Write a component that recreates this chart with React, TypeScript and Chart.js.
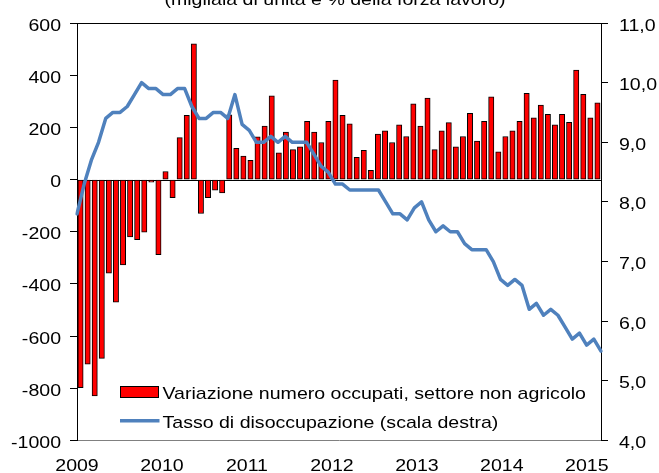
import React, { useEffect, useRef } from "react";
import { Chart, registerables } from "chart.js";

Chart.register(...registerables);

const categories = [
  "2009-01","2009-02","2009-03","2009-04","2009-05","2009-06","2009-07","2009-08","2009-09","2009-10","2009-11","2009-12",
  "2010-01","2010-02","2010-03","2010-04","2010-05","2010-06","2010-07","2010-08","2010-09","2010-10","2010-11","2010-12",
  "2011-01","2011-02","2011-03","2011-04","2011-05","2011-06","2011-07","2011-08","2011-09","2011-10","2011-11","2011-12",
  "2012-01","2012-02","2012-03","2012-04","2012-05","2012-06","2012-07","2012-08","2012-09","2012-10","2012-11","2012-12",
  "2013-01","2013-02","2013-03","2013-04","2013-05","2013-06","2013-07","2013-08","2013-09","2013-10","2013-11","2013-12",
  "2014-01","2014-02","2014-03","2014-04","2014-05","2014-06","2014-07","2014-08","2014-09","2014-10","2014-11","2014-12",
  "2015-01","2015-02",
];

const employmentChange = [
  -798, -707, -829, -685, -359, -470, -327, -220, -230, -202,
  -10, -288, 31, -69, 161, 246, 520, -130, -69, -41,
  -51, 248, 120, 90, 74, 164, 205, 321, 102, 182,
  115, 125, 223, 182, 142, 223, 381, 246, 214, 85,
  112, 35, 174, 187, 142, 210, 165, 290, 205, 312,
  115, 187, 218, 125, 165, 254, 147, 223, 317, 106,
  165, 187, 223, 330, 237, 285, 250, 210, 250, 219,
  420, 327, 237, 294,
];

const unemploymentRate = [
  7.8, 8.3, 8.7, 9.0, 9.4, 9.5, 9.5, 9.6, 9.8, 10.0,
  9.9, 9.9, 9.8, 9.8, 9.9, 9.9, 9.6, 9.4, 9.4, 9.5,
  9.5, 9.4, 9.8, 9.3, 9.2, 9.0, 9.0, 9.1, 9.0, 9.1,
  9.0, 9.0, 9.0, 8.8, 8.6, 8.5, 8.3, 8.3, 8.2, 8.2,
  8.2, 8.2, 8.2, 8.0, 7.8, 7.8, 7.7, 7.9, 8.0, 7.7,
  7.5, 7.6, 7.5, 7.5, 7.3, 7.2, 7.2, 7.2, 7.0, 6.7,
  6.6, 6.7, 6.6, 6.2, 6.3, 6.1, 6.2, 6.1, 5.9, 5.7,
  5.8, 5.6, 5.7, 5.5,
];

const yearLabels = ["2009", "2010", "2011", "2012", "2013", "2014", "2015"];

const barLabel = "Variazione numero occupati, settore non agricolo";
const lineLabel = "Tasso di disoccupazione (scala destra)";
const subtitle = "(migliaia di unità e % della forza lavoro)";

const BAR_COLOR = "#FF0000";
const LINE_COLOR = "#4F81BD";
const FONT = '17px "Liberation Sans", Arial, sans-serif';
const SX = 1.15;

function drawStretched(
  ctx: CanvasRenderingContext2D,
  text: string,
  x: number,
  y: number,
  align: "left" | "right" | "center"
) {
  const w = ctx.measureText(text).width * SX;
  let left = x;
  if (align === "right") left = x - w;
  else if (align === "center") left = x - w / 2;
  ctx.save();
  ctx.translate(left, y);
  ctx.scale(SX, 1);
  ctx.textAlign = "left";
  ctx.textBaseline = "alphabetic";
  ctx.fillText(text, 0, 0);
  ctx.restore();
}

const overlayPlugin = {
  id: "overlay",
  beforeDatasetsDraw(chart: any) {
    const { ctx, chartArea, scales } = chart;
    const y0 = Math.round(scales.y.getPixelForValue(0)) + 0.5;
    ctx.save();
    ctx.strokeStyle = "#000";
    ctx.lineWidth = 1;
    ctx.beginPath();
    ctx.moveTo(chartArea.left, y0);
    ctx.lineTo(chartArea.right, y0);
    ctx.stroke();
    ctx.restore();
  },
  afterDraw(chart: any) {
    const { ctx, chartArea, scales } = chart;
    ctx.save();
    ctx.strokeStyle = "#000";
    ctx.lineWidth = 1;
    ctx.beginPath();
    ctx.moveTo(chartArea.left, Math.round(chartArea.top) + 0.5);
    ctx.lineTo(chartArea.right, Math.round(chartArea.top) + 0.5);
    ctx.stroke();

    ctx.font = FONT;
    ctx.fillStyle = "#000";

    const ys = scales.y;
    ys.ticks.forEach((t: any) => {
      const py = ys.getPixelForValue(t.value);
      drawStretched(ctx, String(t.value), 61, py + 7.5, "right");
    });
    const y2 = scales.y2;
    y2.ticks.forEach((t: any) => {
      const py = y2.getPixelForValue(t.value);
      drawStretched(ctx, t.value.toFixed(1).replace(".", ","), 619, py + 7.5, "left");
    });
    const xs = scales.x;
    const n = categories.length;
    yearLabels.forEach((lab, i) => {
      const px = xs.left + ((i * 12) / n) * (xs.right - xs.left);
      drawStretched(ctx, lab, px, 470.5, "center");
    });

    drawStretched(ctx, subtitle, 335, 4.5, "center");

    ctx.fillStyle = BAR_COLOR;
    ctx.fillRect(121, 387, 37, 10);
    ctx.strokeStyle = "#000";
    ctx.lineWidth = 1;
    ctx.strokeRect(120.5, 386.5, 38, 11);
    ctx.strokeStyle = LINE_COLOR;
    ctx.lineWidth = 3.5;
    ctx.beginPath();
    ctx.moveTo(120, 420.7);
    ctx.lineTo(159.5, 420.7);
    ctx.stroke();
    ctx.fillStyle = "#000";
    drawStretched(ctx, barLabel, 162.5, 398.5, "left");
    drawStretched(ctx, lineLabel, 162.5, 428, "left");
    ctx.restore();
  },
};

export default function App() {
  const ref = useRef<HTMLCanvasElement | null>(null);

  useEffect(() => {
    if (!ref.current) return;
    const chart = new Chart(ref.current, {
      type: "bar",
      data: {
        labels: categories,
        datasets: [
          {
            type: "line",
            label: lineLabel,
            data: unemploymentRate,
            borderColor: LINE_COLOR,
            backgroundColor: LINE_COLOR,
            borderWidth: 3.5,
            pointRadius: 0,
            tension: 0,
            borderJoinStyle: "round",
            borderCapStyle: "round",
            xAxisID: "xl",
            yAxisID: "y2",
            order: 0,
          } as any,
          {
            type: "bar",
            label: barLabel,
            data: employmentChange,
            backgroundColor: BAR_COLOR,
            borderColor: "#000",
            borderWidth: 1,
            borderSkipped: false,
            grouped: false,
            barThickness: 5.3,
            xAxisID: "x",
            yAxisID: "y",
            order: 1,
          } as any,
        ],
      },
      options: {
        animation: false,
        responsive: true,
        maintainAspectRatio: false,
        layout: { padding: { top: 23, left: 0, right: 0, bottom: 0 } },
        plugins: {
          legend: { display: false },
          tooltip: { enabled: false },
          title: { display: false },
        },
        scales: {
          x: {
            type: "category",
            position: "bottom",
            offset: true,
            grid: { display: false },
            border: { display: true, color: "#808080", width: 1 },
            ticks: { display: false, autoSkip: false },
            afterFit: (s: any) => {
              s.height = 32.5;
            },
          },
          xl: {
            type: "category",
            display: false,
            offset: false,
          },
          y: {
            position: "left",
            min: -1000,
            max: 600,
            ticks: { stepSize: 200, display: false },
            grid: {
              drawOnChartArea: false,
              drawTicks: true,
              tickLength: 7,
              color: "#000",
            },
            border: { display: true, color: "#000", width: 1 },
            afterFit: (s: any) => {
              s.width = 77;
            },
          },
          y2: {
            position: "right",
            min: 4,
            max: 11,
            ticks: { stepSize: 1, display: false },
            grid: {
              drawOnChartArea: false,
              drawTicks: true,
              tickLength: 7,
              color: "#000",
            },
            border: { display: true, color: "#000", width: 1 },
            afterFit: (s: any) => {
              s.width = 58;
            },
          },
        },
      } as any,
      plugins: [overlayPlugin],
    });
    return () => chart.destroy();
  }, []);

  return (
    <div style={{ position: "fixed", left: 0, top: 0, width: 659, height: 473, background: "#fff" }}>
      <canvas ref={ref} />
    </div>
  );
}
